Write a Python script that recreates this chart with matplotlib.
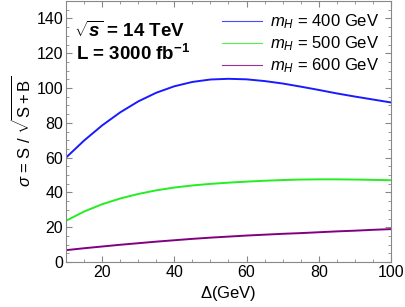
import matplotlib.pyplot as plt
from matplotlib.ticker import MultipleLocator

plt.rcParams["font.family"] = ["Liberation Sans", "DejaVu Sans"]
plt.rcParams["mathtext.fontset"] = "custom"
plt.rcParams["mathtext.rm"] = "Liberation Sans"
plt.rcParams["mathtext.it"] = "Liberation Sans:italic"
plt.rcParams["mathtext.bf"] = "Liberation Sans:bold"
plt.rcParams["mathtext.bfit"] = "Liberation Sans:italic:bold"

# values
delta = [10, 15, 20, 25, 30, 35, 40, 45, 50, 55, 60, 65, 70, 75, 80, 85, 90, 95, 100]
mh400 = [60, 69.8, 78.5, 86, 92.3, 97.3, 101, 103.5, 104.9, 105.3, 105, 104, 102.6,
         100.8, 98.9, 96.9, 95.1, 93.4, 91.7]
mh500 = [23.7, 29, 33.2, 36.5, 39.1, 41.2, 42.8, 44, 44.9, 45.6, 46.2, 46.7, 47.1,
         47.4, 47.5, 47.5, 47.4, 47.2, 47]
mh600 = [6.8, 7.9, 8.9, 9.9, 10.8, 11.7, 12.5, 13.3, 14, 14.6, 15.2, 15.7, 16.2,
         16.6, 17.1, 17.6, 18, 18.5, 18.9]

labels = [r"$m_H$ = 400 GeV", r"$m_H$ = 500 GeV", r"$m_H$ = 600 GeV"]
colors = ["#1a1aff", "#22ee22", "#800080"]

fig = plt.figure(figsize=(4.06, 3.07), dpi=100)
ax = fig.add_axes([0.1626, 0.1466, 0.8004, 0.8500])

for ys, lab, c in zip([mh400, mh500, mh600], labels, colors):
    ax.plot(delta, ys, color=c, lw=1.4, solid_joinstyle="round")
    ax.plot([], [], color=c, lw=0.8, alpha=0.8, label=lab)

ax.set_xlim(10, 100)
ax.set_ylim(0, 150)
ax.set_xticks([20, 40, 60, 80, 100])
ax.set_yticks([0, 20, 40, 60, 80, 100, 120, 140])
ax.xaxis.set_minor_locator(MultipleLocator(5))
ax.yaxis.set_minor_locator(MultipleLocator(5))
ax.tick_params(which="both", direction="in", top=True, right=True,
               colors="#888888", labelcolor="black", labelsize=11.5, pad=2)
ax.tick_params(which="major", length=4)
ax.tick_params(which="minor", length=2)
for s in ax.spines.values():
    s.set_color("#888888")

ax.set_xlabel(r"$\Delta$(GeV)", fontsize=12, labelpad=3)
ax.set_ylabel(r"$\sigma$ = S / $\sqrt{\mathrm{S+B}}$", fontsize=12, labelpad=2)

ax.text(0.025, 0.862, r"$\sqrt{\mathbfit{s}}$ = 14 TeV", transform=ax.transAxes,
        fontsize=13.5, fontweight="bold", va="baseline", ha="left")
ax.text(0.03, 0.774, r"L = 3000 fb$^{\mathbf{-1}}$", transform=ax.transAxes,
        fontsize=13.5, fontweight="bold", va="baseline", ha="left")

ax.legend(loc="upper right", frameon=False, fontsize=12, handlelength=2.4,
          borderaxespad=0.3, labelspacing=0.2, handletextpad=0.5)

fig.savefig("out.png", dpi=100)
